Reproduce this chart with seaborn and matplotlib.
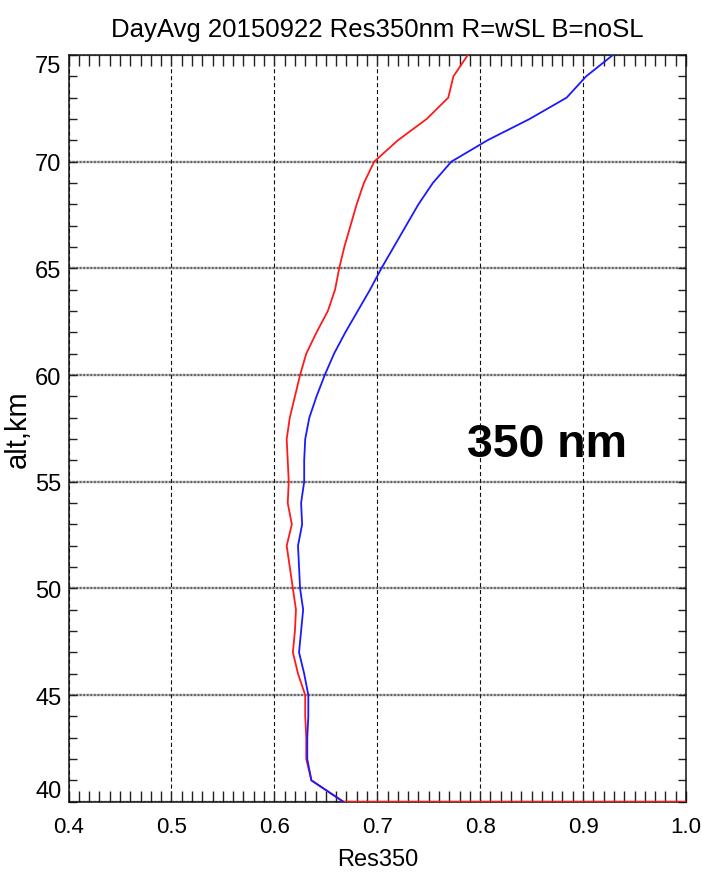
import matplotlib
matplotlib.use("Agg")
import matplotlib.pyplot as plt
from matplotlib.ticker import MultipleLocator, FormatStrFormatter
import seaborn as sns
import pandas as pd

# ---- data ----
alt_wsl = [40, 40, 41, 42, 43, 44, 45, 46, 47, 48, 49, 50, 51, 52, 53, 54, 55, 56, 57,
           58, 59, 60, 61, 62, 63, 64, 65, 66, 67, 68, 69, 70, 71, 72, 73, 74, 75]
res_wsl = [1.0, 0.667, 0.636, 0.631, 0.631, 0.630, 0.630, 0.623, 0.618, 0.620, 0.621,
           0.618, 0.615, 0.612, 0.617, 0.613, 0.614, 0.613, 0.612, 0.615, 0.620, 0.625,
           0.631, 0.641, 0.652, 0.659, 0.663, 0.668, 0.674, 0.680, 0.687, 0.697, 0.720,
           0.748, 0.769, 0.774, 0.788]
alt_nosl = [40, 41, 42, 43, 44, 45, 46, 47, 48, 49, 50, 51, 52, 53, 54, 55, 56, 57,
            58, 59, 60, 61, 62, 63, 64, 65, 66, 67, 68, 69, 70, 71, 72, 73, 74, 75]
res_nosl = [0.667, 0.636, 0.632, 0.632, 0.633, 0.633, 0.629, 0.624, 0.626, 0.628, 0.625,
            0.624, 0.623, 0.627, 0.626, 0.629, 0.629, 0.630, 0.634, 0.641, 0.649, 0.658,
            0.669, 0.681, 0.693, 0.704, 0.716, 0.728, 0.740, 0.754, 0.772, 0.807, 0.848,
            0.884, 0.903, 0.929]
series_names = ["wSL", "noSL"]
series_colors = ["#ff1a1a", "#1a1aff"]
x_ticks = [0.4, 0.5, 0.6, 0.7, 0.8, 0.9, 1.0]
y_ticks = [40, 45, 50, 55, 60, 65, 70, 75]
title_text = "DayAvg 20150922 Res350nm R=wSL B=noSL"
xlabel_text = "Res350"
ylabel_text = "alt,km"
note_text = "350 nm"

df = pd.concat([
    pd.DataFrame({"alt": alt_wsl, "res": res_wsl, "case": series_names[0]}),
    pd.DataFrame({"alt": alt_nosl, "res": res_nosl, "case": series_names[1]}),
], ignore_index=True)

sns.set_style("ticks")
plt.rcParams["font.family"] = ["Liberation Sans", "DejaVu Sans"]
plt.rcParams["lines.scale_dashes"] = False
plt.rcParams["text.color"] = "black"
plt.rcParams["axes.labelcolor"] = "black"

fig = plt.figure(figsize=(7.02, 8.79), dpi=100)
ax = fig.add_axes([0.0976, 0.0868, 0.8796, 0.8495])

sns.lineplot(data=df, x="res", y="alt", hue="case", palette=series_colors,
             hue_order=series_names, sort=False, estimator=None,
             lw=1.3, legend=False, ax=ax, zorder=3)

ax.set_xlim(0.4, 1.0)
ax.set_ylim(40, 75)
ax.set_xticks(x_ticks)
ax.set_yticks(y_ticks)
ax.xaxis.set_major_formatter(FormatStrFormatter("%.1f"))
ax.xaxis.set_minor_locator(MultipleLocator(0.01))
ax.yaxis.set_minor_locator(MultipleLocator(1))

ax.tick_params(axis="x", which="both", direction="in", top=True, bottom=True,
               length=8, width=1, color="#222222", labelsize=16, pad=10, labelcolor="black")
ax.tick_params(axis="y", which="both", direction="in", left=True, right=True,
               length=6, width=1, color="#222222", labelsize=17, pad=5, labelcolor="black")

ax.xaxis.grid(True, which="major", color="#111111", lw=0.8, ls=(0, (3, 2)))
ax.yaxis.grid(True, which="major", color="#222222", lw=1.7, ls=(0, (0.5, 0.5)))
ax.set_axisbelow(True)

for s in ax.spines.values():
    s.set_color("#111111")
    s.set_linewidth(1.1)

ticks = ax.yaxis.get_major_ticks()
ticks[0].label1.set_va("bottom")
ticks[-1].label1.set_va("top")

ax.set_title(title_text, fontsize=18.5, pad=14, color="black")
ax.set_xlabel(xlabel_text, fontsize=17)
ax.xaxis.set_label_coords(0.5, -0.062)
ax.set_ylabel(ylabel_text, fontsize=21)
ax.yaxis.set_label_coords(-0.083, 0.5)
ax.yaxis.label.set_va("center")

ax.text(0.787, 56.22, note_text, fontsize=33.5, fontweight="bold", color="black",
        ha="left", va="baseline", zorder=5)

fig.savefig("out.png", dpi=100)
